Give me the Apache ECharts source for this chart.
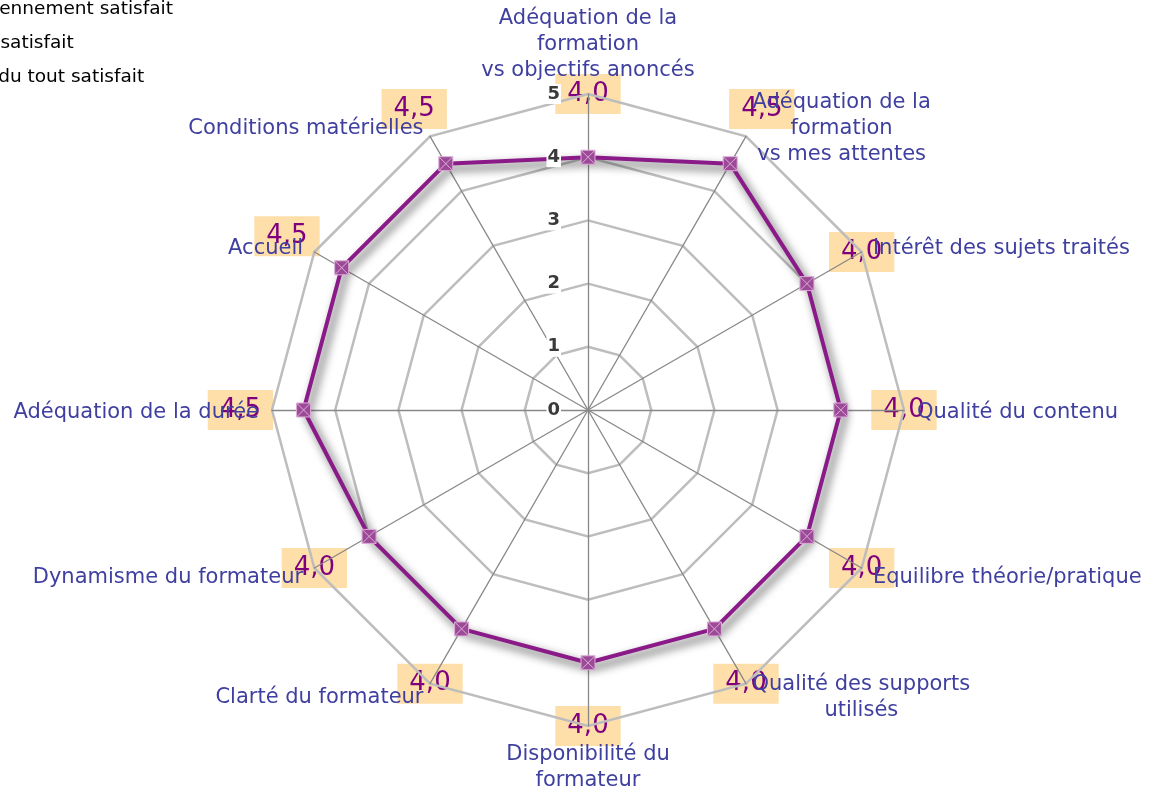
<!DOCTYPE html>
<html><head><meta charset="utf-8">
<script src="https://cdn.jsdelivr.net/npm/echarts@6/dist/echarts.min.js"></script>
<style>html,body{margin:0;padding:0;background:#fff}#c{width:1153px;height:792px}</style>
</head><body><div id="c"></div>
<script>
// clockwise from top
const categories = [
  "Adéquation de la\nformation\nvs objectifs anoncés",
  "Adéquation de la\nformation\nvs mes attentes",
  "Intérêt des sujets traités",
  "Qualité du contenu",
  "Equilibre théorie/pratique",
  "Qualité des supports\nutilisés",
  "Disponibilité du\nformateur",
  "Clarté du formateur",
  "Dynamisme du formateur",
  "Adéquation de la durée",
  "Accueil",
  "Conditions matérielles"
];
const values = [4.0, 4.5, 4.0, 4.0, 4.0, 4.0, 4.0, 4.0, 4.0, 4.5, 4.5, 4.5];
const tickLabels = ["0", "1", "2", "3", "4", "5"];
const legendNames = ["Moyennement satisfait", "Peu satisfait", "Pas du tout satisfait"];
const axisMax = 5;
const labelOutset = 1; // data labels sit one unit beyond the point

// ECharts radar runs counter-clockwise: reorder so the chart reads clockwise
const order = [0].concat(categories.map((_, i) => i).slice(1).reverse());
const ind = order.map(i => ({ name: categories[i], max: axisMax, min: 0 }));
const vals = order.map(i => values[i]);
const labelPos = vals.map(v => v + labelOutset);
const fmt = v => v.toFixed(1).replace('.', ',');

const CENTER = [588, 410], R = 316;
const chart = echarts.init(document.getElementById('c'));
chart.setOption({
  animation: false,
  legend: {
    data: legendNames, orient: 'vertical', left: -74, top: -6,
    icon: 'none', itemWidth: 25, itemHeight: 14, itemGap: 14,
    selectedMode: false,
    textStyle: { color: '#000', fontFamily: 'DejaVu Sans', fontSize: 18.5, lineHeight: 20 }
  },
  radar: {
    center: CENTER, radius: R, startAngle: 90, shape: 'polygon',
    splitNumber: 5, z: 2,
    indicator: ind,
    nameGap: 13,
    axisName: {
      color: '#3f3fa0', fontFamily: 'DejaVu Sans', fontSize: 21, lineHeight: 26,
      padding: [3, 0, -3, 0],
      formatter: (n) => n.split('\n').map(s => '{c|' + s + '}').join('\n'),
      rich: { c: { align: 'center', color: '#3f3fa0', fontFamily: 'DejaVu Sans', fontSize: 21, lineHeight: 26 } }
    },
    axisLine: { lineStyle: { color: '#888', width: 1.3 } },
    splitLine: { lineStyle: { color: '#bdbdbd', width: 2.5 } },
    splitArea: { show: false },
    axisLabel: { show: false }
  },
  polar: { center: CENTER, radius: R },
  angleAxis: { type: 'value', min: 0, max: 360, startAngle: 90, show: false },
  radiusAxis: {
    type: 'value', min: 0, max: axisMax, interval: 1, z: 10,
    axisLine: { show: false }, axisTick: { show: false }, splitLine: { show: false },
    axisLabel: {
      margin: 27, color: '#3a3a3a', fontFamily: 'DejaVu Sans', fontSize: 18, fontWeight: 'bold',
      backgroundColor: '#fff', padding: [1, 1],
      formatter: (v) => tickLabels[v]
    }
  },
  series: [
    {
      type: 'radar', name: 'legend', z: 0, symbol: 'none', silent: true,
      lineStyle: { opacity: 0 },
      data: legendNames.map(n => ({ name: n, value: [] }))
    },
    {
      type: 'radar', name: 'labels', z: 1, silent: true,
      symbol: 'circle', symbolSize: 1,
      itemStyle: { color: 'rgba(0,0,0,0)' },
      lineStyle: { opacity: 0 },
      label: {
        show: true, position: 'inside',
        formatter: (p) => fmt(vals[p.dimensionIndex !== undefined ? p.dimensionIndex : 0]),
        color: '#7f007f', fontFamily: 'DejaVu Sans', fontSize: 26, lineHeight: 30,
        backgroundColor: '#fedfa9', padding: [6, 12, 4, 12]
      },
      data: [{ name: 'pos', value: labelPos }]
    },
    {
      type: 'radar', name: 'Moyenne', z: 3,
      symbol: 'path://M0,0L10,0L10,10L0,10ZM0,0L10,10M10,0L0,10', symbolSize: 14,
      itemStyle: { color: '#9c4a97', borderColor: '#dcaed8', borderWidth: 1 },
      lineStyle: { color: '#8b1a89', width: 4, shadowColor: 'rgba(0,0,0,0.75)', shadowBlur: 10, shadowOffsetX: 4, shadowOffsetY: 5 },
      data: [{ name: 'Moyenne', value: vals }]
    }
  ]
});
</script></body></html>
